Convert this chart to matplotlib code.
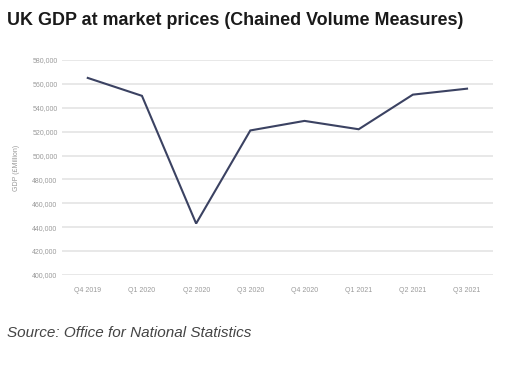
import matplotlib.pyplot as plt
from matplotlib.ticker import FuncFormatter

# Quarterly GDP, £ million (chained volume measures)
quarters = ["Q4 2019", "Q1 2020", "Q2 2020", "Q3 2020",
            "Q4 2020", "Q1 2021", "Q2 2021", "Q3 2021"]
gdp = [565000, 550000, 443000, 521000, 529000, 522000, 551000, 556000]

plt.rcParams['font.family'] = ['Liberation Sans', 'DejaVu Sans']

fig = plt.figure(figsize=(5.19, 3.66), dpi=100)
ax = fig.add_axes([0.119, 0.249, 0.831, 0.587])

ax.plot(range(len(quarters)), gdp, color="#3b4262", linewidth=1.5, solid_joinstyle="miter")

ax.set_ylim(400000, 580000)
ax.set_xlim(-0.48, len(quarters) - 1 + 0.48)
ax.set_yticks(range(400000, 580001, 20000))
ax.yaxis.set_major_formatter(FuncFormatter(lambda v, p: f"{int(v):,}"))
ax.set_xticks(range(len(quarters)))
ax.set_xticklabels(quarters)

ax.grid(axis="y", color="#e6e6e6", linewidth=1.3)
ax.set_axisbelow(True)
for s in ax.spines.values():
    s.set_visible(False)
ax.tick_params(axis="both", length=0, labelsize=5, labelcolor="#9a9a9a")
ax.tick_params(axis="y", pad=3)
ax.tick_params(axis="x", pad=9)

ax.set_ylabel("GDP (£Million)", fontsize=5, color="#9a9a9a", labelpad=9)

fig.text(0.014, 0.945, "UK GDP at market prices (Chained Volume Measures)",
         fontsize=12.9, fontweight="bold", color="#1a1a1a", va="center")
fig.text(0.014, 0.09, "Source: Office for National Statistics",
         fontsize=11, style="italic", color="#444444", va="center")

fig.savefig("out.png", dpi=100)
